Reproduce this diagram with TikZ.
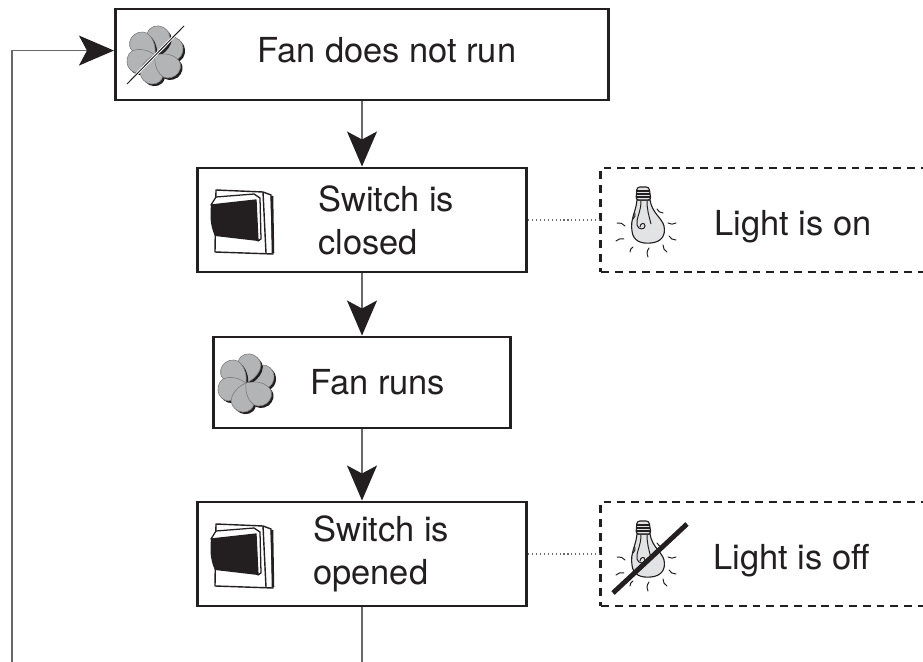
\documentclass[tikz,border=0pt]{standalone}
\usepackage{fontspec}
\setmainfont{TeX Gyre Heros}
\usetikzlibrary{arrows.meta}
\definecolor{ink}{RGB}{35,31,32}
\definecolor{wiregray}{RGB}{105,105,105}
\definecolor{fangray}{RGB}{178,180,182}
\definecolor{bulbgray}{RGB}{226,227,228}

\tikzset{
  stepbox/.style={draw=ink, line width=2.1pt, fill=white, inner sep=0pt},
  lightbox/.style={draw=ink, line width=2.1pt, dash pattern=on 5.6pt off 4.2pt, inner sep=0pt},
  caption/.style={text=ink, inner sep=0pt},
  wire/.style={draw=wiregray, line width=0.8pt},
  flow/.style={wire, -{Stealth[length=0.875cm, width=0.75cm, inset=0.2cm, color=ink]}},
  dotlink/.style={draw=wiregray, line width=0.8pt, dotted},
  petal/.style={rotate=#1},
  % six petals with a dark shadow
  fanicon/.pic={
    \foreach \a in {15,75,...,315} {
      \fill[ink, shift={(2,2)}, petal=\a] (0,0) .. controls (4,-6) and (10,-13) .. (19,-13) .. controls (27,-13) and (30,-5) .. (29,0) .. controls (28,6) and (23,11) .. (17,10) .. controls (9,9) and (4,5) .. (0,0);
      \filldraw[fill=fangray, draw=ink!60, line width=0.4pt, petal=\a] (0,0) .. controls (4,-6) and (10,-13) .. (19,-13) .. controls (27,-13) and (30,-5) .. (29,0) .. controls (28,6) and (23,11) .. (17,10) .. controls (9,9) and (4,5) .. (0,0);
    }
  },
  fanoff/.pic={
    \pic {fanicon};
    \draw[white, line width=2pt] (-28,29) -- (29,-29);
    \draw[ink, line width=0.7pt] (-28,29) -- (29,-29);
  },
  switchicon/.pic={
    \filldraw[fill=white, draw=ink, line width=1pt, line join=round] (-26,-32) -- (21,-30) -- (29,-27) -- (31,32) -- (-27,30) -- cycle;
    \draw[ink, line width=1pt] (21,-30) -- (24,31);
    \draw[ink, line width=1.8pt] (30,-26) -- (31,31);
    \filldraw[fill=white, draw=ink, line width=0.9pt, line join=round] (-26,-25) -- (12,-28) -- (18,-24) -- (19,17) -- (16,19) -- (14,-22) -- (-31,-17) -- cycle;
    \fill[ink] (-31,-17) -- (14,-22) -- (16,19) -- (-27,14) .. controls (-32,4) and (-32,-7) .. (-31,-17);
  },
  bulbicon/.pic={
    \filldraw[fill=bulbgray, draw=ink, line width=0.8pt] (-10,-22) .. controls (-11,-10) and (-17,-3) .. (-15,9) .. controls (-14,19) and (-6,22) .. (4,21) .. controls (14,20) and (19,14) .. (17,4) .. controls (15,-4) and (5,-9) .. (3,-22) -- cycle;
    \filldraw[fill=bulbgray, draw=ink, line width=0.8pt, rounded corners=2pt] (-11,-22) -- (-10,-35) -- (2,-35) -- (4,-22) -- cycle;
    \foreach \s in {-31,-28,-25}
      \draw[ink, line width=0.8pt] (-10.5,\s) -- (3.3,\s);
    \draw[ink, line width=0.7pt] (-6,-21) .. controls (-6,-10) and (-11,-4) .. (-10,3) .. controls (-9,8) and (-2,8) .. (-2,4) .. controls (-2,0) and (-7,1) .. (-7,5);
    \draw[ink, line width=0.7pt] (0,-21) .. controls (0,-12) and (2,-6) .. (4,2);
    \foreach \ax/\ay/\bx/\by in {-30/1/-22/4, -31/19/-23/17, -17/30/-14/25, 1/35/2/26, 20/30/16/23, 29/18/22/14, 29/1/21/1, 16/-9/10/-13, -12/-9/-14/-3}
      \draw[ink, line width=0.7pt, line cap=round] (\ax,\ay) to[bend left=30] (\bx,\by);
  },
  bulboff/.pic={
    \pic {bulbicon};
    \draw[ink, line width=3.5pt] (-34,37) -- (40,-32);
  }
}

\begin{document}
\begin{tikzpicture}[x=0.025cm, y=-0.025cm, font=\fontsize{24.5}{30.5}\selectfont]
    \clip (0,0) rectangle (923,662);

    % steps
    \node[stepbox, minimum width=12.325cm, minimum height=2.275cm] (notrun) at (362,54.5) {};
    \node[stepbox, minimum width=8.225cm, minimum height=2.6cm] (closed) at (362,220) {};
    \node[stepbox, minimum width=7.4cm, minimum height=2.275cm] (runs) at (362,382.5) {};
    \node[stepbox, minimum width=8.225cm, minimum height=2.6cm] (opened) at (362,554) {};

    % lamp states
    \node[lightbox, minimum width=8.475cm, minimum height=2.6cm] (lighton) at (770.5,220) {};
    \node[lightbox, minimum width=8.475cm, minimum height=2.6cm] (lightoff) at (770.5,554) {};

    % icons
    \pic at (155,55) {fanoff};
    \pic at (242,222) {switchicon};
    \pic at (246,383) {fanicon};
    \pic at (242,556) {switchicon};
    \pic at (647,222) {bulbicon};
    \pic at (647,556) {bulboff};

    % texts
    \node[caption, anchor=base west] (notruntext) at (257,63) {Fan does not run};
    \node[caption, anchor=west, align=left] (closedtext) at (318,220) {Switch is\\closed};
    \node[caption, anchor=base west] (runstext) at (310,395) {Fan runs};
    \node[caption, anchor=west, align=left] (openedtext) at (313,554) {Switch is\\opened};
    \node[caption, anchor=base west] (lightontext) at (714,236) {Light is on};
    \node[caption, anchor=base west] (lightofftext) at (713,570) {Light is off};

    % connectors
    \draw[flow] (notrun.south) -- (closed.north);
    \draw[flow] (closed.south) -- (runs.north);
    \draw[flow] (runs.south) -- (opened.north);
    \draw[dotlink] (closed.east) -- (lighton.west);
    \draw[dotlink] (opened.east) -- (lightoff.west);

    \coordinate (exitfoot) at (362,680);
    \coordinate (loopfoot) at (12,680);
    \draw[wire] (opened.south) -- (exitfoot);
    \draw[flow] (loopfoot) |- ([yshift=2.8pt]notrun.west);
\end{tikzpicture}
\end{document}
